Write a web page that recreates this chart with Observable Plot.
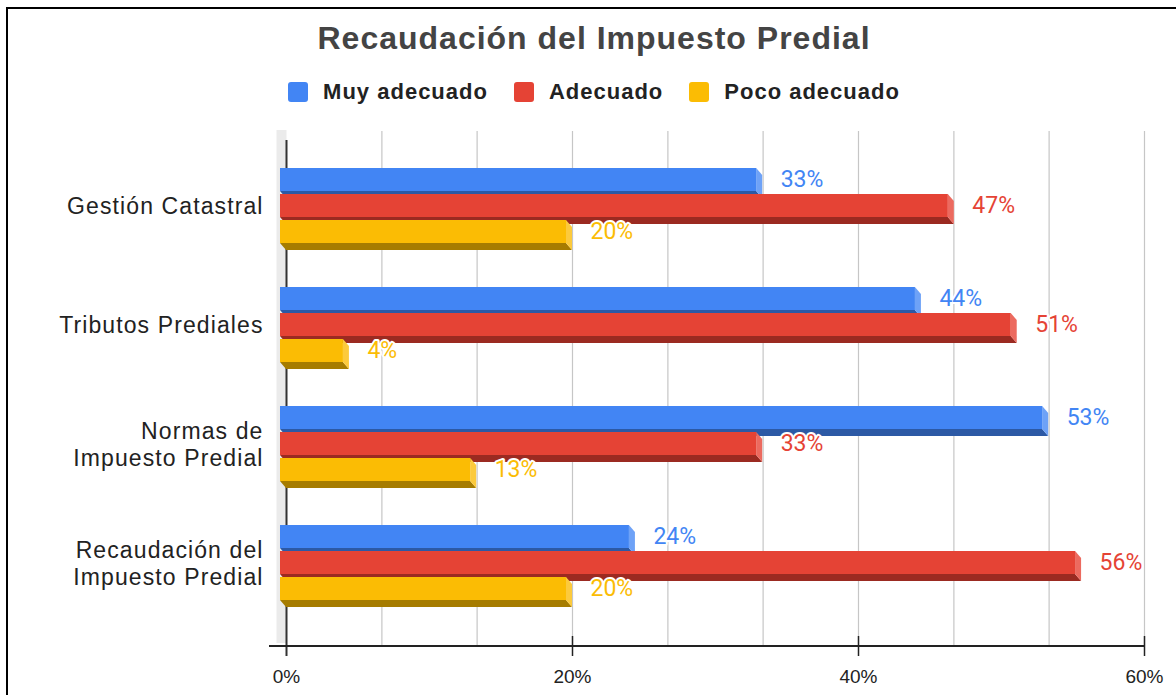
<!DOCTYPE html>
<html><head><meta charset="utf-8">
<script src="https://cdn.jsdelivr.net/npm/d3@7"></script>
<script src="https://cdn.jsdelivr.net/npm/@observablehq/plot@0.6"></script>
<style>
html,body{margin:0;padding:0;background:#fff;width:1176px;height:695px;overflow:hidden;position:relative}
#frame{position:absolute;left:6px;top:7px;width:1300px;height:900px;border-top:2px solid #000;border-left:2px solid #000;pointer-events:none}
#title{position:absolute;left:12px;top:18px;width:1164px;text-align:center;font:bold 32px "Liberation Sans",Arial,sans-serif;letter-spacing:1px;color:#444;line-height:40px}
#legend{position:absolute;left:12px;top:79px;width:1164px;height:26px;display:flex;justify-content:center;align-items:center;font:bold 22px "Liberation Sans",Arial,sans-serif;letter-spacing:1px;color:#222}
.item{display:flex;align-items:center;margin:0 13px}
.sw{width:20px;height:20px;border-radius:3px;margin-right:15px}
#chart{position:absolute;left:0;top:120px}
</style></head><body>
<div id="frame"></div>
<div id="title"></div>
<div id="legend"></div>
<div id="chart"></div>
<script>
const titleText = "Recaudación del Impuesto Predial";
const categories = ["Gestión Catastral", "Tributos Prediales", "Normas de Impuesto Predial", "Recaudación del Impuesto Predial"];
const categoryLabels = ["Gestión Catastral", "Tributos Prediales", "Normas de\nImpuesto Predial", "Recaudación del\nImpuesto Predial"];
const seriesNames = ["Muy adecuado", "Adecuado", "Poco adecuado"];
const muyAdecuado = [33.3, 44.4, 53.3, 24.4];
const adecuado = [46.7, 51.1, 33.3, 55.6];
const pocoAdecuado = [20.0, 4.4, 13.3, 20.0];
const frontColors = ["#4285f4", "#e54335", "#fbbc04"];
const bottomColors = ["#2c59a5", "#9b2a21", "#a67c00"];
const sideColors = ["#6ea2f7", "#ec6a5f", "#fcca3c"];
const xTicks = [0, 20, 40, 60];
const gridTicks = [6.67, 13.33, 20, 26.67, 33.33, 40, 46.67, 53.33, 60];

document.getElementById("title").textContent = titleText;
const legend = document.getElementById("legend");
seriesNames.forEach((name, i) => {
  const it = document.createElement("div"); it.className = "item";
  const sw = document.createElement("div"); sw.className = "sw"; sw.style.background = frontColors[i];
  const tx = document.createElement("span"); tx.textContent = name;
  it.appendChild(sw); it.appendChild(tx); legend.appendChild(it);
});

const seriesValues = [muyAdecuado, adecuado, pocoAdecuado];
const rows = seriesValues.map((vals, s) => categories.map((c, j) => ({category: c, series: seriesNames[s], s, value: vals[j]})));

const W = 1176, H = 575, mT = 16, mB = 49, mL = 286, mR = 32;
const R = H - mT - mB;
const step = 119, slot = 26, barH = 23, bw = 2 * slot + barH;
const padIn = 1 - bw / step;
const padOut = (R / step - categories.length + padIn) / 2;
const DX = 6, DY = 7;

function depth(s) {
  return (index, scales) => {
    const x = scales.x, y = scales.y;
    const g = d3.create("svg:g");
    rows[s].forEach(d => {
      const x0 = x(0), xv = x(d.value);
      const yt = y(d.category) + s * slot, yb = yt + barH;
      g.append("polygon").attr("points", [[x0 - DX, yb - DY], [xv - DX, yb - DY], [xv, yb], [x0, yb]].join(" ")).attr("fill", bottomColors[s]);
      g.append("polygon").attr("points", [[xv - DX, yt - DY], [xv, yt], [xv, yb], [xv - DX, yb - DY]].join(" ")).attr("fill", sideColors[s]);
    });
    return g.node();
  };
}

const axisLine = (index, scales, values, dims) => {
  const y0 = dims.height - dims.marginBottom;
  return d3.create("svg:line")
    .attr("x1", scales.x(0) - 17).attr("x2", scales.x(xTicks[xTicks.length - 1]))
    .attr("y1", y0).attr("y2", y0).attr("stroke", "#222").attr("stroke-width", 2).node();
};

const marks = [
  Plot.ruleX([0], {stroke: "#ebebeb", strokeWidth: 10, dx: -5, insetTop: -6, insetBottom: 3}),
  Plot.ruleX(gridTicks, {stroke: "#c6c6c6", strokeWidth: 1.2, insetTop: -5}),
  Plot.ruleX([0], {stroke: "#333", strokeWidth: 2, insetTop: 4, insetBottom: -10}),
  Plot.ruleX(xTicks.slice(1), {stroke: "#222", strokeWidth: 1.5, insetTop: R - 10, insetBottom: -10}),
  axisLine
];
seriesNames.forEach((name, s) => {
  marks.push(depth(s));
  marks.push(Plot.barX(rows[s], {
    x: "value", y: "category", fill: frontColors[s],
    insetTop: s * slot, insetBottom: bw - s * slot - barH, dx: -DX, dy: -DY
  }));
});
seriesNames.forEach((name, s) => {
  marks.push(Plot.text(rows[s], {
    x: "value", y: "category", text: d => Math.round(d.value) + "%",
    textAnchor: "start", dx: 18, dy: (s - 1) * slot - DY,
    fill: frontColors[s], stroke: "white", strokeWidth: 4, paintOrder: "stroke",
    fontSize: 23, fontFamily: "Roboto"
  }));
});
marks.push(Plot.text(categories, {
  y: d => d, text: (d, i) => categoryLabels[i], frameAnchor: "left",
  textAnchor: "end", dx: -23, dy: -7, fontSize: 23, lineHeight: 1.15, fill: "#222"
}));

const chart = Plot.plot({
  width: W, height: H,
  marginTop: mT, marginBottom: mB, marginLeft: mL, marginRight: mR,
  x: {domain: [0, 60], ticks: xTicks, tickFormat: d => d + "%", tickSize: 0, tickPadding: 23, label: null},
  y: {domain: categories, paddingInner: padIn, paddingOuter: padOut, axis: null},
  style: {fontFamily: "'Liberation Sans', Arial, sans-serif", fontSize: "19px", color: "#222", background: "transparent"},
  marks
});
const flatLabels = categoryLabels.map(l => l.replace("\n", ""));
d3.select(chart).selectAll("text")
  .filter(function() { return flatLabels.includes(this.textContent); })
  .style("letter-spacing", "1.1px");
document.getElementById("chart").appendChild(chart);
</script>
</body></html>
